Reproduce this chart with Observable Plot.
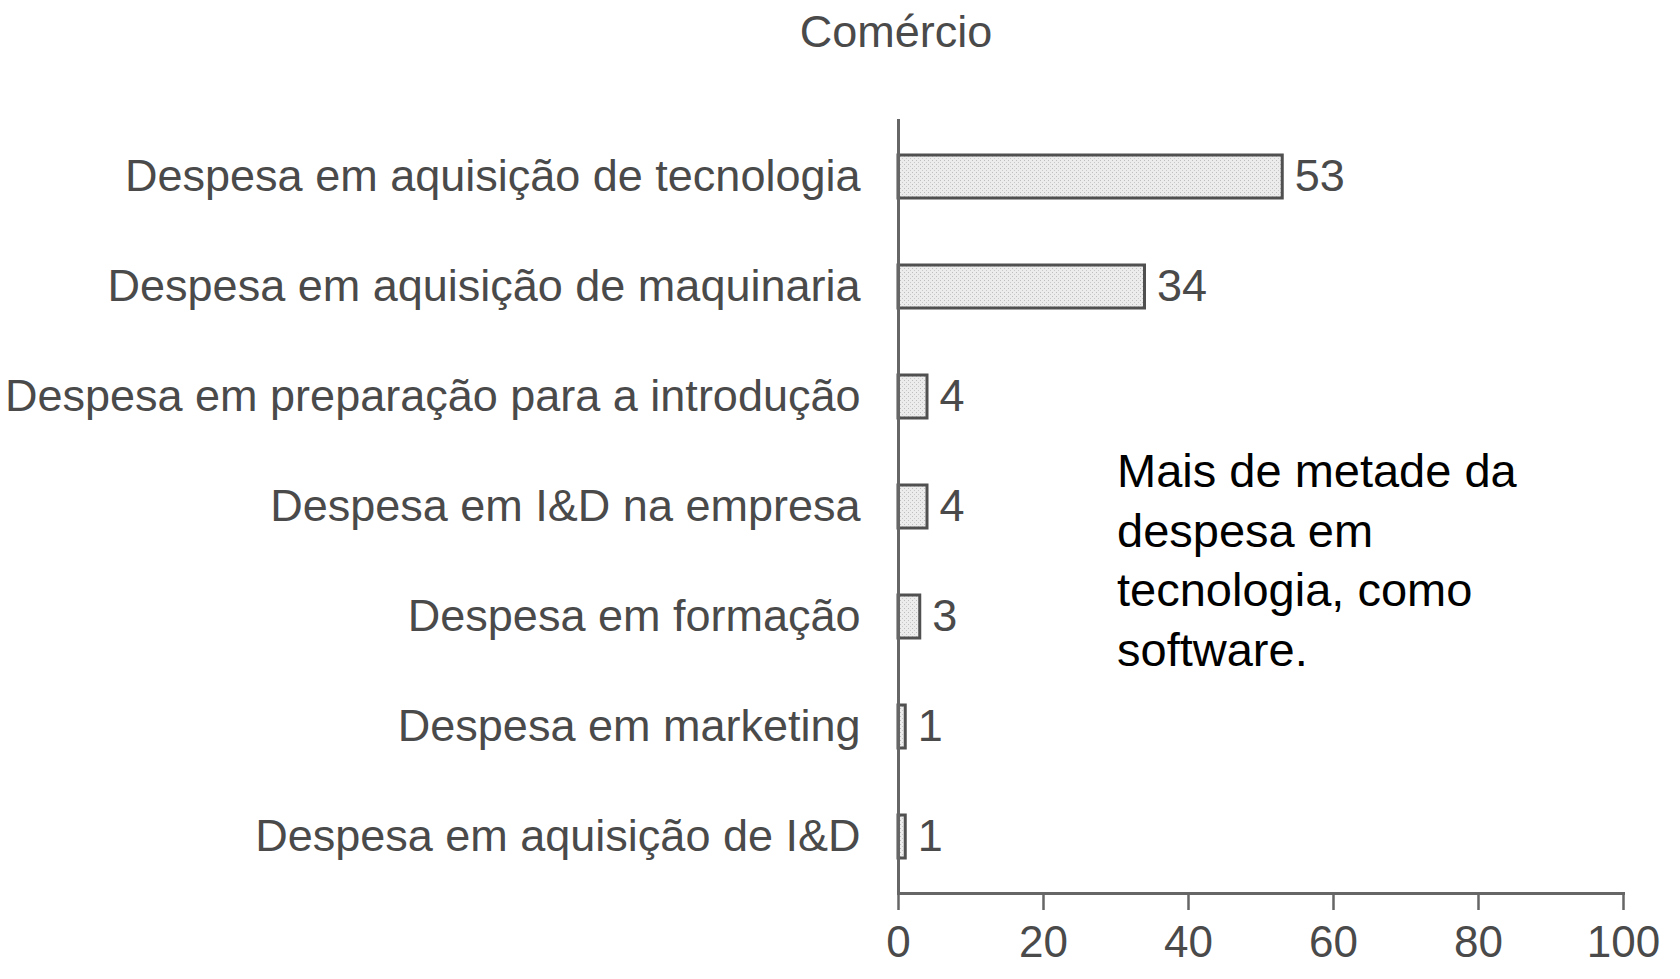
<!DOCTYPE html>
<html>
<head>
<meta charset="utf-8">
<script src="https://cdn.jsdelivr.net/npm/d3@7"></script>
<script src="https://cdn.jsdelivr.net/npm/@observablehq/plot@0.6"></script>
<style>
  html, body { margin: 0; padding: 0; background: #fff; }
  #wrap { position: relative; width: 1680px; height: 979px; overflow: hidden; font-family: "Liberation Sans", Arial, sans-serif; }
  #title { position: absolute; left: 896px; top: 0; transform: translateX(-50%); height: 64px; line-height: 64px; font-size: 45px; color: #4a4a4a; white-space: nowrap; }
  #chart { position: absolute; left: 0; top: 64px; }
  #note { position: absolute; left: 1117px; top: 441px; font-size: 47px; line-height: 59.5px; color: #000; white-space: nowrap; }
</style>
</head>
<body>
<div id="wrap">
  <div id="title">Comércio</div>
  <div id="chart"></div>
  <div id="note">Mais de metade da<br>despesa em<br>tecnologia, como<br>software.</div>
</div>
<script>
const categories = [
  "Despesa em aquisição de tecnologia",
  "Despesa em aquisição de maquinaria",
  "Despesa em preparação para a introdução",
  "Despesa em I&D na empresa",
  "Despesa em formação",
  "Despesa em marketing",
  "Despesa em aquisição de I&D"
];
const values = [53, 34, 4, 4, 3, 1, 1];
const xTicks = [0, 20, 40, 60, 80, 100];

const data = categories.map((c, i) => ({label: c, value: values[i]}));

const ink = "#4a4a4a";
const chart = Plot.plot({
  width: 1680,
  height: 915,
  marginLeft: 898,
  marginRight: 57,
  marginTop: 55,
  marginBottom: 86,
  style: {fontFamily: "'Liberation Sans', Arial, sans-serif", color: ink, background: "white", overflow: "visible"},
  x: {domain: [0, 100]},
  y: {domain: categories, paddingInner: 0.61, paddingOuter: 0.305},
  marks: [
    Plot.barX(data, {x: "value", y: "label", fill: "url(#stipple)", stroke: "#505050", strokeWidth: 3}),
    Plot.text(data, {x: "value", y: "label", text: d => String(d.value), textAnchor: "start", dx: 12, fontSize: 45, fill: ink}),
    Plot.ruleX([0], {stroke: "#666", strokeWidth: 3}),
    Plot.frame({anchor: "bottom", stroke: "#666", strokeWidth: 3}),
    Plot.axisX({ticks: xTicks, tickSize: 17, tickPadding: 15, fontSize: 44, stroke: "#666", strokeWidth: 2.5, fill: ink, label: null}),
    Plot.axisY({tickSize: 0, tickPadding: 38, fontSize: 45, fill: ink, label: null})
  ]
});

// stipple fill pattern for the bars
const svg = d3.select(chart);
const defs = svg.insert("defs", ":first-child");
const pat = defs.append("pattern").attr("id", "stipple").attr("patternUnits", "userSpaceOnUse").attr("width", 4).attr("height", 4);
pat.append("rect").attr("width", 4).attr("height", 4).attr("fill", "#ececec");
pat.append("rect").attr("x", 0).attr("y", 0).attr("width", 1).attr("height", 1).attr("fill", "#bdbdbd");
pat.append("rect").attr("x", 2).attr("y", 2).attr("width", 1).attr("height", 1).attr("fill", "#c8c8c8");

document.getElementById("chart").appendChild(chart);
</script>
</body>
</html>
